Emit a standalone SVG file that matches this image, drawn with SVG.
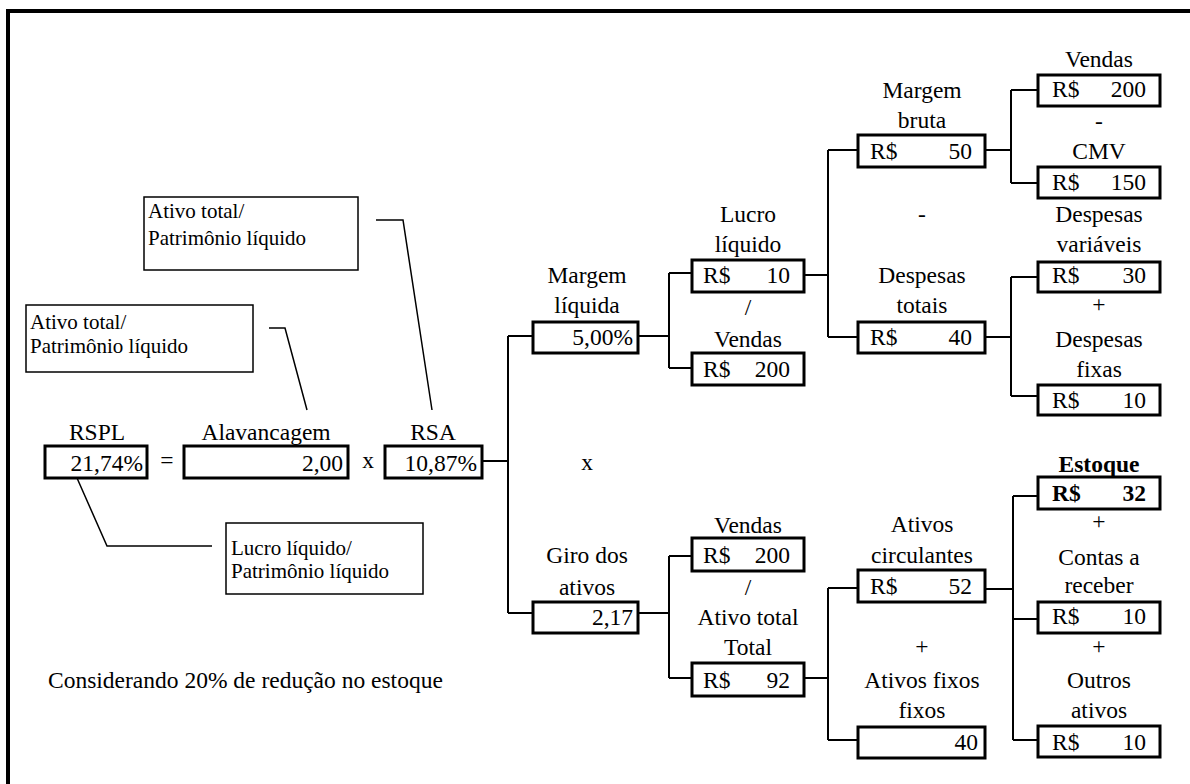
<svg xmlns="http://www.w3.org/2000/svg" width="1190" height="784" viewBox="0 0 1190 784">
<style>
.c{text-anchor:middle}
.e{text-anchor:end}
.b{font-weight:bold}
.box{fill:#fff;stroke:#000;stroke-width:3}
.call{fill:#fff;stroke:#000;stroke-width:1.5}
.ln{fill:none;stroke:#000;stroke-width:2}
.ld{fill:none;stroke:#000;stroke-width:1.5}
</style>
<rect x="0" y="0" width="1190" height="784" fill="#fff"/>
<rect x="8" y="11" width="1200" height="800" fill="none" stroke="#000" stroke-width="4"/>

<g id="connectors">
<path class="ln" d="M482 461H508M508 336V613M508 336H533M508 613H533"/>
<path class="ln" d="M638 336H669M669 273V368M669 273H692M669 368H692"/>
<path class="ln" d="M804 275H828M828 150V337M828 150H858M828 337H858"/>
<path class="ln" d="M985 150H1011M1011 90V183M1011 90H1038M1011 183H1038"/>
<path class="ln" d="M985 337H1011M1011 277V396M1011 277H1038M1011 396H1038"/>
<path class="ln" d="M638 613H669M669 556V678M669 556H692M669 678H692"/>
<path class="ln" d="M804 678H828M828 588V740M828 588H858M828 740H858"/>
<path class="ln" d="M985 589H1013M1013 496V740M1013 496H1038M1013 619H1038M1013 740H1038"/>
<path class="ld" d="M376 220H403L432 410"/>
<path class="ld" d="M269 328H285L307 410"/>
<path class="ld" d="M212 546H107L77 478"/>
</g>

<g font-family="Liberation Serif, serif" font-size="21" fill="#000">
<g id="callout-ativo-1"><rect class="call" x="144" y="197" width="214" height="73"/>
<text x="148" y="218">Ativo total/</text><text x="148" y="245">Patrimônio líquido</text></g>
<g id="callout-ativo-2"><rect class="call" x="26" y="305" width="227" height="67"/>
<text x="30" y="329">Ativo total/</text><text x="30" y="353">Patrimônio líquido</text></g>
<g id="callout-lucro"><rect class="call" x="226" y="523" width="197" height="71"/>
<text x="231" y="555">Lucro líquido/</text><text x="231" y="578">Patrimônio líquido</text></g>
</g>

<g font-family="Liberation Serif, serif" font-size="23.5" fill="#000">
<g id="rspl"><text class="c" x="97" y="440">RSPL</text><rect class="box" x="45" y="446" width="102" height="32"/><text class="e" x="143" y="471">21,74%</text></g>
<text class="c" x="167" y="468">=</text>
<g id="alavancagem"><text class="c" x="266" y="440">Alavancagem</text><rect class="box" x="184" y="446" width="164" height="32"/><text class="e" x="343" y="471">2,00</text></g>
<text class="c" x="368" y="468">x</text>
<g id="rsa"><text class="c" x="433" y="440">RSA</text><rect class="box" x="385" y="446" width="97" height="32"/><text class="e" x="477" y="471">10,87%</text></g>

<g id="margem-liquida"><text class="c" x="587" y="283">Margem</text><text class="c" x="587" y="313">líquida</text><rect class="box" x="533" y="322" width="105" height="31"/><text class="e" x="633" y="345">5,00%</text></g>
<text class="c" x="587" y="470">x</text>
<g id="giro"><text class="c" x="587" y="563">Giro dos</text><text class="c" x="587" y="595">ativos</text><rect class="box" x="533" y="602" width="105" height="31"/><text class="e" x="633" y="625">2,17</text></g>

<g id="lucro-liquido"><text class="c" x="748" y="222">Lucro</text><text class="c" x="748" y="252">líquido</text><rect class="box" x="692" y="260" width="112" height="32"/><text x="703" y="283">R$</text><text class="e" x="790" y="283">10</text></g>
<text class="c" x="748" y="315">/</text>
<g id="vendas-1"><text class="c" x="748" y="347">Vendas</text><rect class="box" x="692" y="353" width="112" height="32"/><text x="703" y="377">R$</text><text class="e" x="790" y="377">200</text></g>
<g id="vendas-2"><text class="c" x="748" y="533">Vendas</text><rect class="box" x="692" y="538" width="112" height="33"/><text x="703" y="563">R$</text><text class="e" x="790" y="563">200</text></g>
<text class="c" x="748" y="595">/</text>
<g id="ativo-total"><text class="c" x="748" y="625">Ativo total</text><text class="c" x="748" y="655">Total</text><rect class="box" x="692" y="663" width="112" height="33"/><text x="703" y="688">R$</text><text class="e" x="790" y="688">92</text></g>

<g id="margem-bruta"><text class="c" x="922" y="98">Margem</text><text class="c" x="922" y="128">bruta</text><rect class="box" x="858" y="135" width="127" height="32"/><text x="870" y="159">R$</text><text class="e" x="972" y="159">50</text></g>
<text class="c" x="922" y="222">-</text>
<g id="despesas-totais"><text class="c" x="922" y="283">Despesas</text><text class="c" x="922" y="313">totais</text><rect class="box" x="858" y="322" width="127" height="31"/><text x="870" y="345">R$</text><text class="e" x="972" y="345">40</text></g>
<g id="ativos-circulantes"><text class="c" x="922" y="532">Ativos</text><text class="c" x="922" y="563">circulantes</text><rect class="box" x="858" y="570" width="127" height="32"/><text x="870" y="594">R$</text><text class="e" x="972" y="594">52</text></g>
<text class="c" x="922" y="654">+</text>
<g id="ativos-fixos"><text class="c" x="922" y="688">Ativos fixos</text><text class="c" x="922" y="718">fixos</text><rect class="box" x="858" y="727" width="127" height="31"/><text class="e" x="978" y="750">40</text></g>

<g id="vendas-3"><text class="c" x="1099" y="67">Vendas</text><rect class="box" x="1038" y="75" width="122" height="31"/><text x="1052" y="97">R$</text><text class="e" x="1146" y="97">200</text></g>
<text class="c" x="1099" y="129">-</text>
<g id="cmv"><text class="c" x="1099" y="159">CMV</text><rect class="box" x="1038" y="167" width="122" height="31"/><text x="1052" y="190">R$</text><text class="e" x="1146" y="190">150</text></g>
<g id="despesas-variaveis"><text class="c" x="1099" y="222">Despesas</text><text class="c" x="1099" y="252">variáveis</text><rect class="box" x="1038" y="262" width="122" height="30"/><text x="1052" y="283">R$</text><text class="e" x="1146" y="283">30</text></g>
<text class="c" x="1099" y="312">+</text>
<g id="despesas-fixas"><text class="c" x="1099" y="347">Despesas</text><text class="c" x="1099" y="377">fixas</text><rect class="box" x="1038" y="385" width="122" height="30"/><text x="1052" y="408">R$</text><text class="e" x="1146" y="408">10</text></g>
<g id="estoque"><text class="c b" x="1099" y="472">Estoque</text><rect class="box" x="1038" y="477" width="122" height="32"/><text class="b" x="1052" y="501">R$</text><text class="e b" x="1146" y="501">32</text></g>
<text class="c" x="1099" y="529">+</text>
<g id="contas-receber"><text class="c" x="1099" y="565">Contas a</text><text class="c" x="1099" y="593">receber</text><rect class="box" x="1038" y="602" width="122" height="31"/><text x="1052" y="624">R$</text><text class="e" x="1146" y="624">10</text></g>
<text class="c" x="1099" y="654">+</text>
<g id="outros-ativos"><text class="c" x="1099" y="688">Outros</text><text class="c" x="1099" y="718">ativos</text><rect class="box" x="1038" y="726" width="122" height="31"/><text x="1052" y="750">R$</text><text class="e" x="1146" y="750">10</text></g>

<text x="48" y="688">Considerando 20% de redução no estoque</text>
</g>
</svg>
